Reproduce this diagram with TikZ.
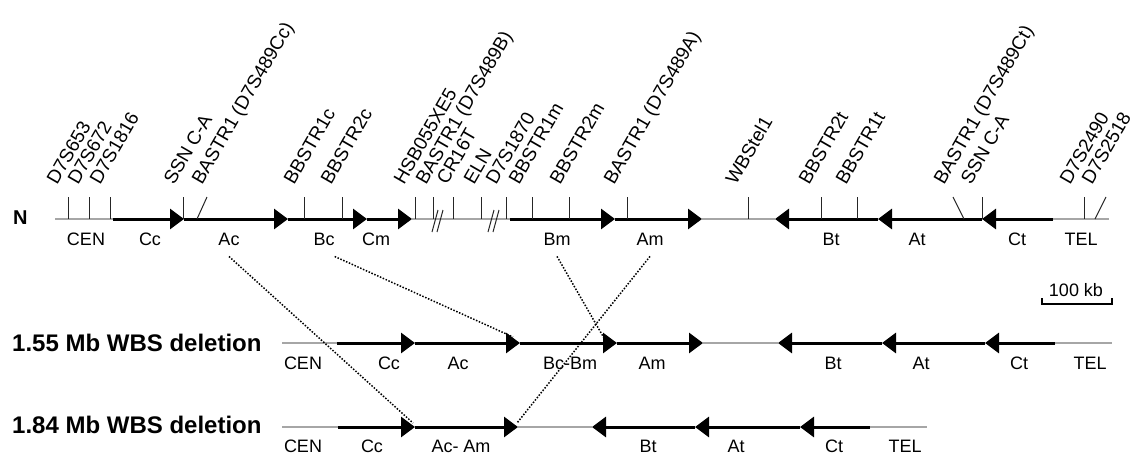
\documentclass[tikz,border=0pt]{standalone}
\usepackage{fontspec}
\setmainfont{Liberation Sans}
\usetikzlibrary{arrows.meta}
\begin{document}
\begin{tikzpicture}[x=1pt,y=-1pt,
  chr/.style={line width=3pt,black},
  seg/.style={chr,-{Triangle[length=14pt,width=20pt]}},
  flank/.style={line width=2pt,color=black!35},
  tickline/.style={line width=1pt,black!85},
  mk/.style={rotate=60,anchor=base west,inner sep=0pt,font=\fontsize{19}{19}\selectfont},
  lab/.style={inner sep=0pt,font=\fontsize{18}{18}\selectfont},
  ttl/.style={anchor=west,inner sep=0pt,font=\fontsize{24}{24}\selectfont\bfseries},
  map/.style={line width=1.5pt,dash pattern=on 1.5pt off 1.6pt}]
\useasboundingbox (0,0) rectangle (1136,455);

% ---------- normal chromosome (N) ----------
\node[ttl,font=\fontsize{20}{20}\selectfont\bfseries] (tN) at (13,218) {N};
\draw[flank] (55,219) -- (113,219);
\draw[seg] (113,219) -- (184,219);
\draw[seg] (184,219) -- (288,219);
\draw[seg] (288,219) -- (367,219);
\draw[seg] (367,219) -- (412,219);
\draw[flank] (412,219) -- (510,219);
\draw[seg] (510,219) -- (615,219);
\draw[seg] (615,219) -- (702,219);
\draw[flank] (702,219) -- (775,219);
\draw[seg] (878,219) -- (775,219);
\draw[seg] (982,219) -- (878,219);
\draw[seg] (1053,219) -- (982,219);
\draw[flank] (1053,219) -- (1109,219);

% marker ticks
\foreach \x in {68,89,110,183,304,342,415,433,453,481,506,532,569,627,748,821,857,982,1084}
  \draw[tickline] (\x,197) -- (\x,219);
\draw[tickline] (207,197) -- (197,219);
\draw[tickline] (953,197) -- (964,219);
\draw[tickline] (1106,197) -- (1095,219);

% break marks
\draw[tickline] (432,232) -- (438,210);
\draw[tickline] (437,232) -- (443,210);
\draw[tickline] (488,232) -- (494,210);
\draw[tickline] (493,232) -- (499,210);

% marker labels
\foreach \x/\t [count=\i] in {57/D7S653, 78/D7S672, 100/D7S1816, 174/SSN C-A,
  202/BASTR1 (D7S489Cc), 294/BBSTR1c, 331/BBSTR2c, 404/HSB055XE5,
  426/BASTR1 (D7S489B), 447/CR16T, 474/ELN, 496/D7S1870, 519/BBSTR1m,
  560/BBSTR2m, 614/BASTR1 (D7S489A), 736/WBStel1, 809/BBSTR2t, 846/BBSTR1t,
  944/BASTR1 (D7S489Ct), 971/SSN C-A, 1070/D7S2490, 1092/D7S2518}
  \node[mk] (m\i) at (\x,186) {\t};

% segment labels N
\node[lab] (nCEN) at (86,239) {CEN};
\node[lab] (nCc) at (150,239) {Cc};
\node[lab] (nAc) at (229,239) {Ac};
\node[lab] (nBc) at (324,239) {Bc};
\node[lab] (nCm) at (376,239) {Cm};
\node[lab] (nBm) at (557,239) {Bm};
\node[lab] (nAm) at (650,239) {Am};
\node[lab] (nBt) at (831,239) {Bt};
\node[lab] (nAt) at (917,239) {At};
\node[lab] (nCt) at (1017,239) {Ct};
\node[lab] (nTEL) at (1081,239) {TEL};

% scale bar
\node[lab] (scale) at (1076,290) {100 kb};
\draw[line width=1.2pt] (1042,298) -- (1042,304) -- (1112,304) -- (1112,298);

% ---------- 1.55 Mb deletion ----------
\node[ttl] (t155) at (12,343) {1.55 Mb WBS deletion};
\draw[flank] (282,343) -- (337,343);
\draw[seg] (337,343) -- (415,343);
\draw[seg] (415,343) -- (520,343);
\draw[seg] (520,343) -- (617,343);
\draw[seg] (617,343) -- (703,343);
\draw[flank] (703,343) -- (778,343);
\draw[seg] (882,343) -- (778,343);
\draw[seg] (985,343) -- (882,343);
\draw[seg] (1055,343) -- (985,343);
\draw[flank] (1055,343) -- (1112,343);
\node[lab] (aCEN) at (303,363) {CEN};
\node[lab] (aCc) at (389,363) {Cc};
\node[lab] (aAc) at (458,363) {Ac};
\node[lab] (aBcBm) at (570,363) {Bc-Bm};
\node[lab] (aAm) at (652,363) {Am};
\node[lab] (aBt) at (833,363) {Bt};
\node[lab] (aAt) at (921,363) {At};
\node[lab] (aCt) at (1019,363) {Ct};
\node[lab] (aTEL) at (1090,363) {TEL};

% ---------- 1.84 Mb deletion ----------
\node[ttl] (t184) at (12,425) {1.84 Mb WBS deletion};
\draw[flank] (282,427) -- (338,427);
\draw[seg] (338,427) -- (415,427);
\draw[seg] (415,427) -- (518,427);
\draw[flank] (518,427) -- (592,427);
\draw[seg] (695,427) -- (592,427);
\draw[seg] (800,427) -- (695,427);
\draw[seg] (870,427) -- (800,427);
\draw[flank] (870,427) -- (927,427);
\node[lab] (bCEN) at (303,446) {CEN};
\node[lab] (bCc) at (372,446) {Cc};
\node[lab] (bAcAm) at (461,446) {Ac- Am};
\node[lab] (bBt) at (648,446) {Bt};
\node[lab] (bAt) at (736,446) {At};
\node[lab] (bCt) at (834,446) {Ct};
\node[lab] (bTEL) at (905,446) {TEL};

% ---------- mapping of breakpoints ----------
\coordinate (r2a) at (513,337);
\coordinate (r2b) at (604,338);
\coordinate (r3a) at (413,423);
\coordinate (r3b) at (517,423);
\draw[map] ([yshift=-11pt]nAc.south) -- (r3a);
\draw[map] ([yshift=-11pt]nBc.south east) -- (r2a);
\draw[map] ([yshift=-11pt]nBm.south) -- (r2b);
\draw[map] ([yshift=-11pt]nAm.south) -- (r3b);
\end{tikzpicture}
\end{document}
